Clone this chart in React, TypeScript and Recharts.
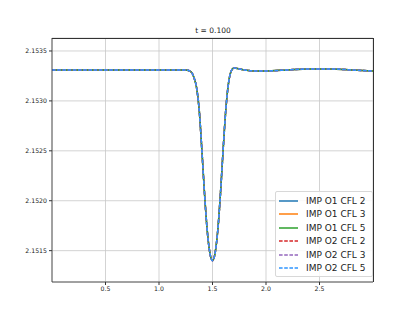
import { LineChart, Line, XAxis, YAxis, CartesianGrid } from 'recharts'

// x positions of the samples
const xs = [
  0, 0.3, 0.6, 0.9, 1.1, 1.25, 1.3, 1.325, 1.35, 1.375, 1.4, 1.425, 1.45, 1.475, 1.5,
  1.525, 1.55, 1.575, 1.6, 1.625, 1.65, 1.675, 1.7, 1.75, 1.8, 1.9, 2.0, 2.2, 2.4, 2.5,
  2.6, 2.8, 3.0,
]

// density at t = 0.100 (all six runs overlap almost perfectly)
const impO1Cfl2 = [
  2.15331, 2.15331, 2.15331, 2.15331, 2.15331, 2.15331, 2.15329, 2.15324, 2.15314, 2.15292,
  2.15252, 2.15208, 2.15171, 2.15148, 2.1514, 2.15148, 2.15171, 2.15208, 2.15252, 2.15292,
  2.15318, 2.15330, 2.15333, 2.15332, 2.15331, 2.1533, 2.1533, 2.15331, 2.15332, 2.15332,
  2.15332, 2.15331, 2.1533,
]
const impO1Cfl3 = impO1Cfl2
const impO1Cfl5 = impO1Cfl2
const impO2Cfl2 = impO1Cfl2
const impO2Cfl3 = impO1Cfl2
const impO2Cfl5 = impO1Cfl2

const xTicks = [0.5, 1.0, 1.5, 2.0, 2.5]
const yTicks = [2.1515, 2.152, 2.1525, 2.153, 2.1535]

const series = [
  { key: 'a', name: 'IMP O1 CFL 2', color: '#1f77b4', dash: undefined, values: impO1Cfl2 },
  { key: 'b', name: 'IMP O1 CFL 3', color: '#ff7f0e', dash: undefined, values: impO1Cfl3 },
  { key: 'c', name: 'IMP O1 CFL 5', color: '#2ca02c', dash: undefined, values: impO1Cfl5 },
  { key: 'd', name: 'IMP O2 CFL 2', color: '#d62728', dash: '3.6 1.6', values: impO2Cfl2 },
  { key: 'e', name: 'IMP O2 CFL 3', color: '#9467bd', dash: '3.6 1.6', values: impO2Cfl3 },
  { key: 'f', name: 'IMP O2 CFL 5', color: '#2f95ff', dash: '3.6 1.6', values: impO2Cfl5 },
]

const data = xs.map((x, i) => {
  const row: any = { x }
  series.forEach(s => { row[s.key] = s.values[i] })
  return row
})

const font = 'DejaVu Sans, sans-serif'

const LegendBox = () => (
  <div style={{
    position: 'absolute', left: 275, top: 191, width: 88,
    border: '1px solid #d8d8d8', borderRadius: 2, background: 'rgba(255,255,255,0.85)',
    padding: '2px 5px 1px 3px', fontFamily: font, fontSize: 9, color: '#222',
  }}>
    {series.map(s => (
      <div key={s.key} style={{ display: 'flex', alignItems: 'center', height: 13.5 }}>
        <svg width={19} height={6} style={{ marginRight: 8 }}>
          <line x1={0} y1={3} x2={19} y2={3} stroke={s.color} strokeWidth={1.5} strokeDasharray={s.dash} />
        </svg>
        <span style={{ whiteSpace: 'nowrap' }}>{s.name}</span>
      </div>
    ))}
  </div>
)

export default function App() {
  return (
    <div style={{ position: 'fixed', left: 0, top: 0, width: 415, height: 316, background: '#fff' }}>
      <div style={{
        position: 'absolute', left: 52, width: 322, top: 26, textAlign: 'center',
        fontFamily: font, fontSize: 7.5, color: '#222',
      }}>
        t = 0.100
      </div>
      <LineChart width={415} height={316} data={data} margin={{ top: 38, right: 42, left: 0, bottom: 0 }}>
        <CartesianGrid stroke="#c8c8c8" strokeWidth={0.8} />
        <XAxis
          dataKey="x"
          type="number"
          domain={[0, 3]}
          ticks={xTicks}
          tickFormatter={(v: number) => v.toFixed(1)}
          height={34}
          tickSize={3}
          tick={{ fontSize: 6.2, fill: '#222', fontFamily: font }}
          stroke="#333"
          axisLine={{ stroke: '#333', strokeWidth: 0.8 }}
          allowDataOverflow
        />
        <YAxis
          type="number"
          domain={[2.151186, 2.15363]}
          ticks={yTicks}
          tickFormatter={(v: number) => v.toFixed(4)}
          width={52}
          tickSize={3}
          tick={{ fontSize: 6.2, fill: '#222', fontFamily: font }}
          stroke="#333"
          axisLine={{ stroke: '#333', strokeWidth: 0.8 }}
          allowDataOverflow
        />
        {series.map(s => (
          <Line
            key={s.key}
            type="monotone"
            dataKey={s.key}
            name={s.name}
            stroke={s.color}
            strokeWidth={1.5}
            strokeDasharray={s.dash}
            dot={false}
            activeDot={false}
            isAnimationActive={false}
          />
        ))}
      </LineChart>
      {/* top and right spines */}
      <div style={{ position: 'absolute', left: 52, top: 38, width: 321, height: 243, border: '0.8px solid #333', borderLeft: 'none', borderBottom: 'none', pointerEvents: 'none' }} />
      <LegendBox />
    </div>
  )
}
